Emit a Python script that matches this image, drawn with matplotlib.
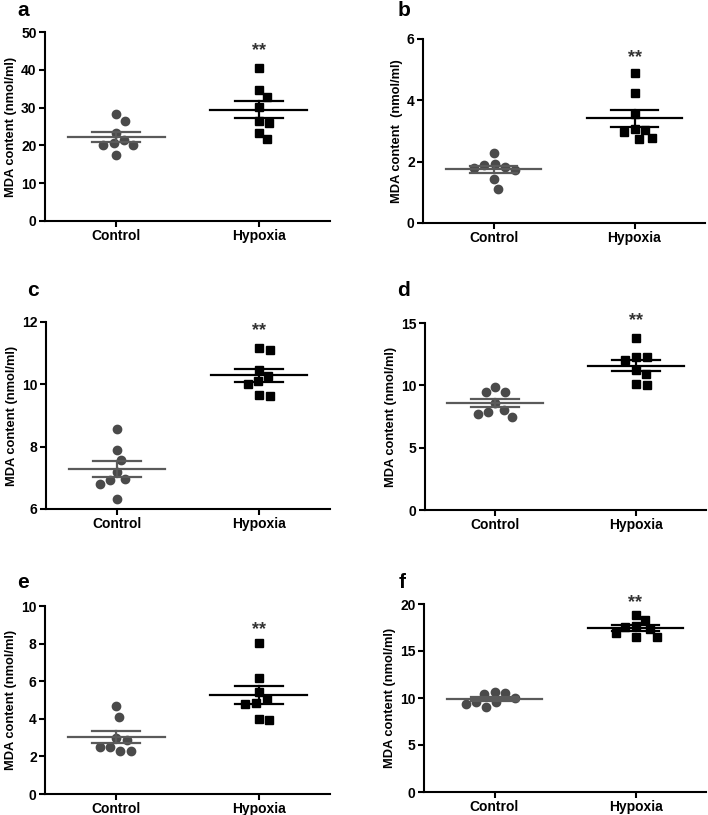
import numpy as np
import matplotlib
matplotlib.use('Agg')
import matplotlib.pyplot as plt

plt.rcParams['font.family'] = ['Liberation Sans', 'DejaVu Sans']
plt.rcParams['font.weight'] = 'bold'
plt.rcParams['axes.labelweight'] = 'bold'

groups = ['Control', 'Hypoxia']
panel_letters = ['a', 'b', 'c', 'd', 'e', 'f']

control_a = [28.2, 26.5, 23.4, 21.4, 20.6, 20.0, 20.0, 17.5]
hypoxia_a = [40.5, 34.7, 32.9, 30.1, 26.5, 25.8, 23.4, 21.6]
control_b = [2.28, 1.93, 1.90, 1.82, 1.79, 1.74, 1.43, 1.11]
hypoxia_b = [4.90, 4.23, 3.55, 3.07, 3.04, 2.98, 2.77, 2.75]
control_c = [8.57, 7.90, 7.58, 7.19, 6.96, 6.94, 6.80, 6.32]
hypoxia_c = [11.17, 11.11, 10.45, 10.26, 10.10, 10.02, 9.66, 9.61]
control_d = [9.86, 9.43, 9.43, 8.57, 8.04, 7.90, 7.71, 7.50]
hypoxia_d = [13.79, 12.27, 12.27, 12.00, 11.25, 10.93, 10.10, 10.04]
control_e = [4.67, 4.11, 2.99, 2.87, 2.51, 2.48, 2.28, 2.28]
hypoxia_e = [8.04, 6.19, 5.43, 5.03, 4.85, 4.81, 3.98, 3.91]
control_f = [10.68, 10.50, 10.39, 9.96, 9.61, 9.54, 9.36, 9.07]
hypoxia_f = [18.86, 18.33, 17.69, 17.54, 17.33, 16.90, 16.44, 16.44]

controls = [control_a, control_b, control_c, control_d, control_e, control_f]
hypoxias = [hypoxia_a, hypoxia_b, hypoxia_c, hypoxia_d, hypoxia_e, hypoxia_f]

y_ranges = [(0, 50), (0, 6), (6, 12), (0, 15), (0, 10), (0, 20)]
y_ticks = [[0, 10, 20, 30, 40, 50], [0, 2, 4, 6], [6, 8, 10, 12],
           [0, 5, 10, 15], [0, 2, 4, 6, 8, 10], [0, 5, 10, 15, 20]]
y_labels = ['MDA content (nmol/ml)', 'MDA content  (nmol/ml)', 'MDA content (nmol/ml)',
            'MDA content (nmol/ml)', 'MDA content (nmol/ml)', 'MDA content (nmol/ml)']
star_y = [0.90, 0.90, 0.955, 1.015, 0.875, 1.01]

W, H = 708, 815
# axes boxes in pixels: left, right, top, bottom
boxes = [(45, 330, 32, 221), (423, 705, 39, 223),
         (46, 330, 322, 509), (425, 706, 323, 510),
         (45, 330, 606, 794), (424, 706, 604, 792)]
letter_pos = [(23, 10), (404, 10), (33, 290), (404, 290), (23, 583), (402, 582)]

fig = plt.figure(figsize=(W / 100, H / 100), dpi=100)


def swarm(values, px_x, px_y, d):
    # simple beeswarm in pixel space, returns offsets in data units
    placed = []
    out = []
    for v in values:
        y = v * px_y
        cands = [0.0]
        for (px, py) in placed:
            dy = abs(py - y)
            if dy < d:
                dx = np.sqrt(d * d - dy * dy)
                cands += [px + dx, px - dx]
        cands = sorted(cands, key=lambda c: (abs(c), -c))
        for c in cands:
            ok = all((c - px) ** 2 + (y - py) ** 2 >= d * d - 1e-6 for (px, py) in placed)
            if ok:
                placed.append((c, y))
                out.append(c / px_x)
                break
    return np.array(out)


for i in range(6):
    l, r, t, b = boxes[i]
    ax = fig.add_axes([l / W, 1 - b / H, (r - l) / W, (b - t) / H])
    ymin, ymax = y_ranges[i]
    ax.set_xlim(-0.5, 1.5)
    ax.set_ylim(ymin, ymax)
    px_x = (r - l) / 2.0
    px_y = (b - t) / (ymax - ymin)

    for j, (vals, col, mk, lcol) in enumerate([(controls[i], '#4a4a4a', 'o', '#5a5a5a'),
                                                (hypoxias[i], 'black', 's', 'black')]):
        vals = np.array(vals)
        offs = swarm(vals, px_x, px_y, 10.8)
        ax.plot(j + offs, vals, linestyle='none', marker=mk, color=col,
                markersize=6.0 if mk == 'o' else 5.4, zorder=3)
        m = vals.mean()
        sem = vals.std(ddof=1) / np.sqrt(len(vals))
        ax.plot([j - 0.34, j + 0.34], [m, m], color=lcol, lw=1.6, zorder=4)
        ax.plot([j - 0.17, j + 0.17], [m + sem, m + sem], color=lcol, lw=1.6, zorder=4)
        ax.plot([j - 0.17, j + 0.17], [m - sem, m - sem], color=lcol, lw=1.6, zorder=4)
        ax.plot([j, j], [m - sem, m + sem], color=lcol, lw=1.6, zorder=4)

    ax.text(1, ymin + star_y[i] * (ymax - ymin), '**', ha='center', va='center',
            fontsize=13, color='#333333', clip_on=False)

    ax.set_xticks([0, 1])
    ax.set_xticklabels(groups, fontsize=10, fontweight='bold')
    ax.set_yticks(y_ticks[i])
    ax.set_yticklabels([str(v) for v in y_ticks[i]], fontsize=10, fontweight='bold')
    ax.set_ylabel(y_labels[i], fontsize=9.3, fontweight='bold', labelpad=3)
    for s in ['top', 'right']:
        ax.spines[s].set_visible(False)
    for s in ['left', 'bottom']:
        ax.spines[s].set_linewidth(1.5)
    ax.tick_params(width=1.5, length=4, pad=2)

    lx, ly = letter_pos[i]
    fig.text(lx / W, 1 - ly / H, panel_letters[i], fontsize=15, fontweight='bold',
             ha='center', va='center')

fig.savefig('out.png', dpi=100)
